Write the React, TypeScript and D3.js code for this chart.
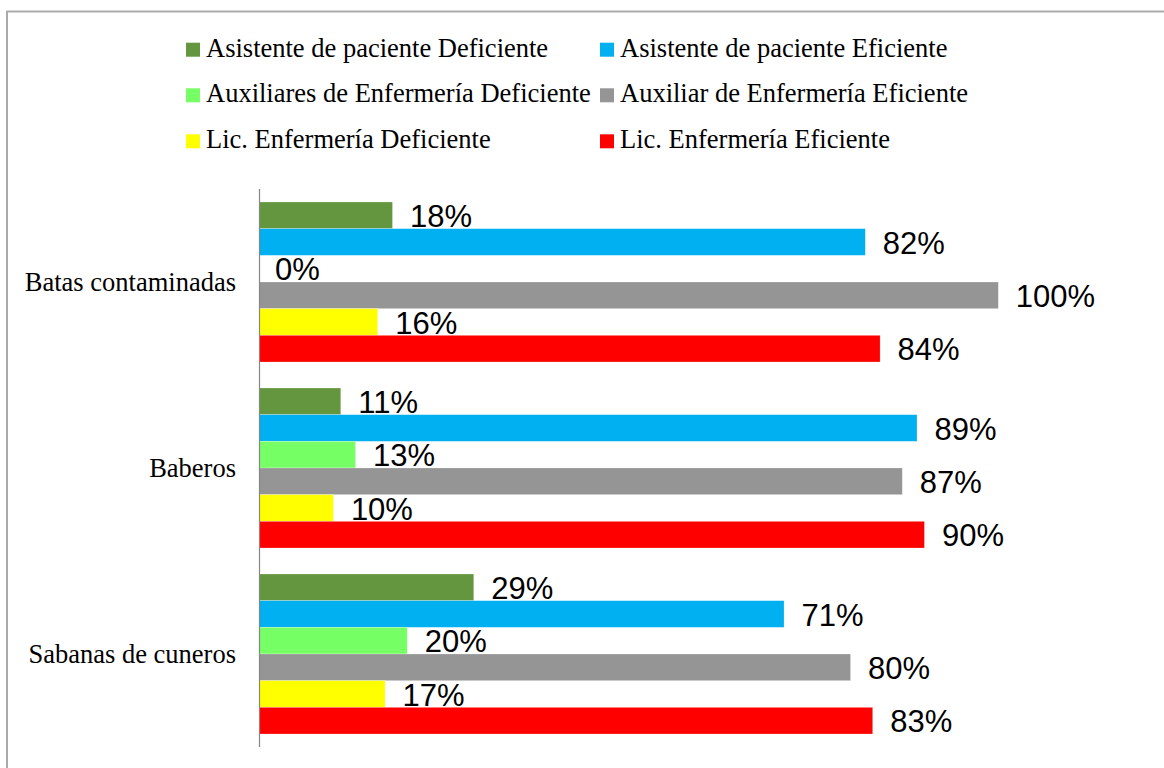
import React from "react";
import * as d3 from "d3";

const categories = ["Batas contaminadas", "Baberos", "Sabanas de cuneros"];
const seriesNames = [
  "Asistente de paciente Deficiente",
  "Asistente de paciente Eficiente",
  "Auxiliares de Enfermería Deficiente",
  "Auxiliar de Enfermería Eficiente",
  "Lic. Enfermería Deficiente",
  "Lic. Enfermería Eficiente",
];
const seriesColors = ["#64963F", "#00B0F0", "#77FF66", "#959595", "#FFFF00", "#FF0000"];
const asistenteDeficiente = [18, 11, 29];
const asistenteEficiente = [82, 89, 71];
const auxiliaresDeficiente = [0, 13, 20];
const auxiliarEficiente = [100, 87, 80];
const licDeficiente = [16, 10, 17];
const licEficiente = [84, 90, 83];
const seriesValues = [
  asistenteDeficiente,
  asistenteEficiente,
  auxiliaresDeficiente,
  auxiliarEficiente,
  licDeficiente,
  licEficiente,
];

const W = 1164;
const H = 768;
const plot = { left: 259.5, right: 998.3, top: 189, bottom: 747 };

export default function App() {
  const x = d3.scaleLinear().domain([0, 100]).range([plot.left, plot.right]);
  const y0 = d3
    .scaleBand<string>()
    .domain(categories)
    .range([plot.top, plot.bottom])
    .paddingInner(26 / 186)
    .paddingOuter(13 / 186);
  const y1 = d3
    .scaleBand<number>()
    .domain(d3.range(seriesNames.length))
    .range([0, y0.bandwidth()]);

  const legendCols = [186, 600];
  const legendRows = [56.7, 102.3, 148.3];

  return (
    <svg
      width={W}
      height={H}
      style={{ position: "absolute", left: 0, top: 0, background: "#fff" }}
    >
      <rect x={0} y={0} width={W} height={H} fill="#fff" />
      <rect x={7} y={11.5} width={1200} height={800} fill="none" stroke="#ABABAB" strokeWidth={2} />
      {/* legend */}
      {seriesNames.map((name, i) => {
        const col = i % 2;
        const row = Math.floor(i / 2);
        const lx = legendCols[col];
        const ly = legendRows[row];
        return (
          <g key={name}>
            <rect x={lx} y={ly - 14} width={14} height={14} fill={seriesColors[i]} />
            <text
              x={lx + 20}
              y={ly}
              fontFamily="'Liberation Serif', 'Times New Roman', serif"
              fontSize={26.5}
              fill="#000"
            >
              {name}
            </text>
          </g>
        );
      })}
      {/* bars */}
      {categories.map((cat, ci) => (
        <g key={cat} transform={`translate(0,${y0(cat)})`}>
          {seriesValues.map((vals, si) => {
            const v = vals[ci];
            const by = y1(si)!;
            const bh = y1.bandwidth();
            return (
              <g key={si}>
                <rect
                  x={x(0)}
                  y={by}
                  width={x(v) - x(0)}
                  height={bh}
                  fill={seriesColors[si]}
                  stroke="#fff"
                  strokeOpacity={0.4}
                  strokeWidth={0.6}
                />
                <text
                  x={x(v) + (v === 0 ? 15.5 : 17.5)}
                  y={by + bh / 2 + 11.7}
                  fontFamily="'Liberation Sans', Arial, sans-serif"
                  fontSize={31}
                  fill="#000"
                >
                  {`${v}%`}
                </text>
              </g>
            );
          })}
        </g>
      ))}
      {/* category labels */}
      {categories.map((cat) => (
        <text
          key={cat}
          x={236}
          y={y0(cat)! + y0.bandwidth() / 2 + 8.7}
          textAnchor="end"
          fontFamily="'Liberation Serif', 'Times New Roman', serif"
          fontSize={26.5}
          fill="#000"
        >
          {cat}
        </text>
      ))}
      {/* axis line */}
      <line x1={plot.left} x2={plot.left} y1={plot.top} y2={plot.bottom} stroke="#868686" strokeWidth={1.2} />
    </svg>
  );
}
